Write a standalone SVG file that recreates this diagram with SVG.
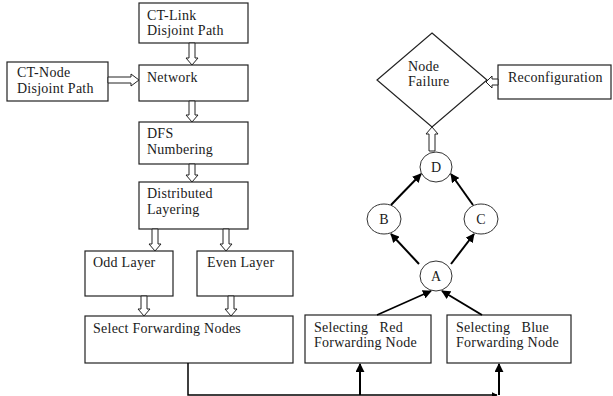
<svg xmlns="http://www.w3.org/2000/svg" width="613" height="396" viewBox="0 0 613 396">
  <style>
    .box { fill: #ffffff; stroke: #222; stroke-width: 1.2; }
    .circ { fill: #ffffff; stroke: #333; stroke-width: 1; }
    .t { font-family: "Liberation Serif", "Times New Roman", serif; font-size: 14px; fill: #1a1a1a; letter-spacing: 0.25px; }
    .tc { font-family: "Liberation Serif", "Times New Roman", serif; font-size: 14px; fill: #1a1a1a; text-anchor: middle; }
    .hollow { fill: #ffffff; stroke: #222; stroke-width: 1; }
    .solid { fill: none; stroke: #000; stroke-width: 2; }
    .thin { fill: none; stroke: #000; stroke-width: 1.5; }
  </style>
  <defs>
    <marker id="ah" viewBox="0 0 10 10" refX="9" refY="5" markerWidth="9" markerHeight="9" markerUnits="userSpaceOnUse" orient="auto">
      <path d="M0,0 L10,5 L0,10 Z" fill="#000"/>
    </marker>
    <marker id="ahs" viewBox="0 0 10 10" refX="9" refY="5" markerWidth="6" markerHeight="6" markerUnits="userSpaceOnUse" orient="auto">
      <path d="M0,0 L10,5 L0,10 Z" fill="#000"/>
    </marker>
  </defs>

  <!-- left column nodes -->
  <g id="ct-link">
    <rect class="box" x="139" y="3" width="109" height="40"/>
    <text class="t" x="147" y="20">CT-Link</text>
    <text class="t" x="147" y="35">Disjoint Path</text>
  </g>
  <g id="ct-node">
    <rect class="box" x="7" y="62" width="101" height="39"/>
    <text class="t" x="17" y="77">CT-Node</text>
    <text class="t" x="17" y="93">Disjoint Path</text>
  </g>
  <g id="network">
    <rect class="box" x="139" y="65" width="109" height="36"/>
    <text class="t" x="147" y="82">Network</text>
  </g>
  <g id="dfs">
    <rect class="box" x="139" y="122" width="109" height="42"/>
    <text class="t" x="147" y="138">DFS</text>
    <text class="t" x="147" y="154">Numbering</text>
  </g>
  <g id="distributed">
    <rect class="box" x="139" y="182" width="109" height="47"/>
    <text class="t" x="147" y="198">Distributed</text>
    <text class="t" x="147" y="214">Layering</text>
  </g>
  <g id="odd-layer">
    <rect class="box" x="85" y="251" width="88" height="45"/>
    <text class="t" x="93" y="267">Odd Layer</text>
  </g>
  <g id="even-layer">
    <rect class="box" x="197" y="251" width="96" height="45"/>
    <text class="t" x="207" y="267">Even Layer</text>
  </g>
  <g id="select-forwarding">
    <rect class="box" x="85" y="316" width="208" height="47"/>
    <text class="t" x="93" y="333">Select Forwarding Nodes</text>
  </g>

  <!-- right side nodes -->
  <g id="selecting-red">
    <rect class="box" x="305" y="315" width="126" height="48"/>
    <text class="t" x="314" y="332" xml:space="preserve">Selecting   Red</text>
    <text class="t" x="314" y="347">Forwarding Node</text>
  </g>
  <g id="selecting-blue">
    <rect class="box" x="447" y="315" width="124" height="48"/>
    <text class="t" x="456" y="332" xml:space="preserve">Selecting   Blue</text>
    <text class="t" x="456" y="347">Forwarding Node</text>
  </g>
  <g id="node-a">
    <ellipse class="circ" cx="436" cy="276" rx="16" ry="15"/>
    <text class="tc" x="436" y="281">A</text>
  </g>
  <g id="node-b">
    <ellipse class="circ" cx="384" cy="219" rx="17" ry="15"/>
    <text class="tc" x="384" y="224">B</text>
  </g>
  <g id="node-c">
    <ellipse class="circ" cx="481" cy="219" rx="17" ry="15"/>
    <text class="tc" x="481" y="224">C</text>
  </g>
  <g id="node-d">
    <ellipse class="circ" cx="436" cy="167" rx="16" ry="15"/>
    <text class="tc" x="436" y="172">D</text>
  </g>
  <g id="node-failure">
    <polygon class="box" points="432,33 487,80 432,127 377,80" stroke-width="1"/>
    <text class="t" x="408" y="71">Node</text>
    <text class="t" x="408" y="86">Failure</text>
  </g>
  <g id="reconfiguration">
    <rect class="box" x="498" y="65" width="113" height="34"/>
    <text class="t" x="508" y="82">Reconfiguration</text>
  </g>

  <!-- connectors -->
  <g id="connectors">
    <!-- hollow block arrows -->
    <polygon class="hollow" points="189,43 189,58 186,58 192,65 198,58 195,58 195,43"/>
    <polygon class="hollow" points="189,101 189,115 186,115 192,122 198,115 195,115 195,101"/>
    <polygon class="hollow" points="189,164 189,175 186,175 192,182 198,175 195,175 195,164"/>
    <polygon class="hollow" points="152,229 152,244 149,244 155,251 161,244 158,244 158,229"/>
    <polygon class="hollow" points="223,229 223,244 220,244 226,251 232,244 229,244 229,229"/>
    <polygon class="hollow" points="141,296 141,309 138,309 144,316 150,309 147,309 147,296"/>
    <polygon class="hollow" points="228,296 228,309 225,309 231,316 237,309 234,309 234,296"/>
    <polygon class="hollow" points="108,77 131,77 131,74 139,80 131,86 131,83 108,83"/>
    <polygon class="hollow" points="429,151 429,134 426,134 432,127 438,134 435,134 435,151"/>
    <polygon class="hollow" points="498,79 492,79 492,76 486,82 492,88 492,85 498,85"/>

    <!-- solid arrows between circles -->
    <line class="solid" x1="419" y1="264" x2="391" y2="234" marker-end="url(#ah)"/>
    <line class="solid" x1="451" y1="264" x2="474" y2="234" marker-end="url(#ah)"/>
    <line class="solid" x1="391" y1="205" x2="421" y2="174" marker-end="url(#ah)"/>
    <line class="solid" x1="473" y1="205" x2="451" y2="174" marker-end="url(#ah)"/>
    <line class="thin" x1="377" y1="315" x2="431" y2="291" marker-end="url(#ah)"/>
    <line class="solid" x1="482" y1="315" x2="442" y2="291" marker-end="url(#ah)"/>

    <!-- feed from Select Forwarding Nodes -->
    <path class="thin" d="M188,363 V395 H497" marker-end="url(#ahs)"/>
    <path class="solid" d="M499,395 V364" marker-end="url(#ah)"/>
    <path class="solid" d="M360,395 V364" marker-end="url(#ah)"/>
  </g>
</svg>
